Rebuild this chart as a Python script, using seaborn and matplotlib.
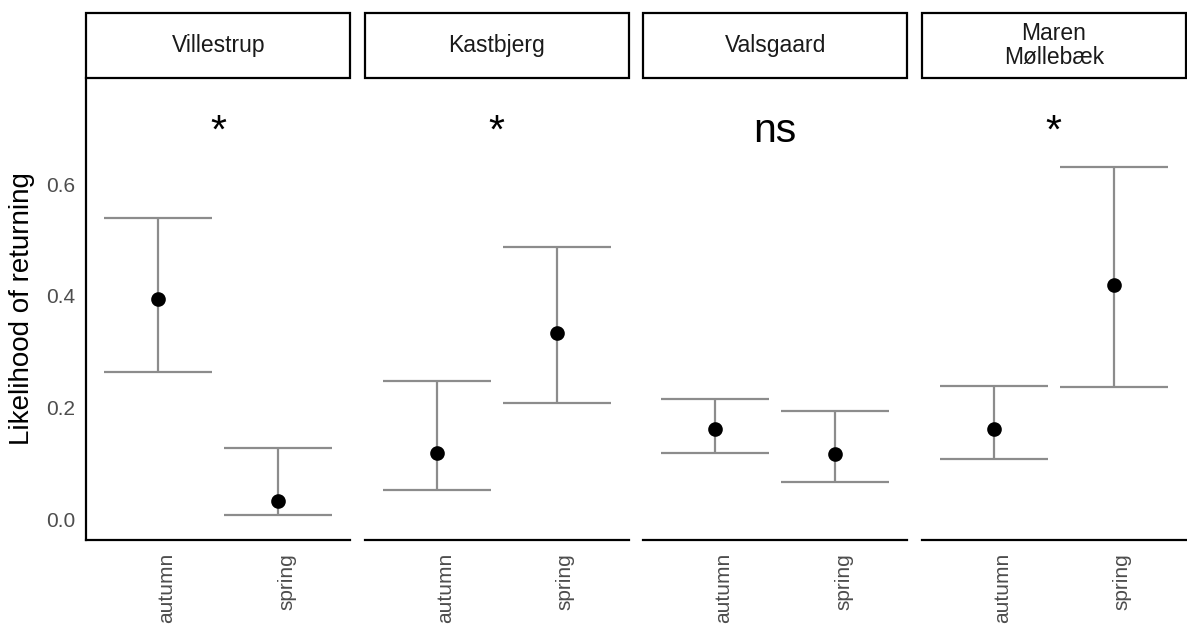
import numpy as np
import pandas as pd
import seaborn as sns
import matplotlib
matplotlib.use("Agg")
import matplotlib.pyplot as plt
from matplotlib.patches import Rectangle
from matplotlib.transforms import ScaledTranslation

# Model estimates of return probability per site and release season
sites = ["Villestrup", "Kastbjerg", "Valsgaard", "Maren\nMøllebæk"]
seasons = ["autumn", "spring"]
estimate = [0.394, 0.033, 0.118, 0.333, 0.161, 0.116, 0.162, 0.420]
lower = [0.264, 0.007, 0.052, 0.208, 0.119, 0.066, 0.107, 0.236]
upper = [0.539, 0.127, 0.247, 0.487, 0.215, 0.193, 0.238, 0.631]
significance = ["*", "*", "ns", "*"]
y_ticks = [0.0, 0.2, 0.4, 0.6]

df = pd.DataFrame({
    "site": np.repeat(sites, len(seasons)),
    "season": seasons * len(sites),
    "estimate": estimate,
    "lower": lower,
    "upper": upper,
})

sns.set_style("white")
plt.rcParams["font.family"] = ["Liberation Sans", "DejaVu Sans"]

W, H = 1187, 624
fig, axes = plt.subplots(1, 4, figsize=(W / 100, H / 100), dpi=100, sharey=True)
fig.subplots_adjust(left=86 / W, right=1186 / W, bottom=1 - 540 / H,
                    top=1 - 78 / H, wspace=0.053)

bar_color = "#8c8c8c"
tick_color = "#4d4d4d"
strip_h = 65 / 462

for ax, site, sig in zip(axes, sites, significance):
    sub = df[df["site"] == site]
    pos = np.arange(len(seasons))
    lo = sub["lower"].to_numpy()
    hi = sub["upper"].to_numpy()

    # confidence intervals with wide caps
    ax.vlines(pos, lo, hi, color=bar_color, lw=1.6, zorder=1)
    ax.hlines(lo, pos - 0.45, pos + 0.45, color=bar_color, lw=1.6, zorder=1)
    ax.hlines(hi, pos - 0.45, pos + 0.45, color=bar_color, lw=1.6, zorder=1)

    sns.pointplot(data=sub, x="season", y="estimate", order=seasons,
                  errorbar=None, color="black", linestyle="none",
                  markersize=8.5, ax=ax, zorder=3)

    ax.set_xlim(-0.6, 1.6)
    ax.set_ylim(-0.0376, 0.79)
    ax.set_xlabel("")
    ax.set_ylabel("")

    ax.text(0.5, 0.675, sig, ha="center", va="baseline", fontsize=29.5,
            color="black")

    # facet strip
    ax.add_patch(Rectangle((0, 1), 1, strip_h, transform=ax.transAxes,
                           clip_on=False, facecolor="white",
                           edgecolor="black", lw=1.6, zorder=5))
    ax.text(0.5, 1 + strip_h / 2, site, transform=ax.transAxes,
            ha="center", va="center", fontsize=16.5, color="#1a1a1a",
            linespacing=1.05, zorder=6)

    for side in ["top", "right"]:
        ax.spines[side].set_visible(False)
    ax.spines["bottom"].set_linewidth(1.6)
    ax.spines["bottom"].set_color("black")
    ax.spines["left"].set_linewidth(1.6)
    ax.spines["left"].set_color("black")

    ax.tick_params(axis="x", length=4.5, width=1.2, color="#333333",
                   labelsize=15, labelcolor=tick_color, pad=5)
    for lab in ax.get_xticklabels():
        lab.set_rotation(90)
        lab.set_ha("left")
        lab.set_va("top")
        lab.set_transform(lab.get_transform() +
                          ScaledTranslation(-1 / 100, 0, fig.dpi_scale_trans))

axes[0].set_yticks(y_ticks)
axes[0].set_yticklabels([f"{v:.1f}" for v in y_ticks])
axes[0].tick_params(axis="y", length=4.5, width=1.2, color="#333333",
                    labelsize=15, labelcolor=tick_color, pad=3)
for ax in axes[1:]:
    ax.spines["left"].set_visible(False)
    ax.tick_params(axis="y", left=False, labelleft=False)

fig.text(22 / W, 1 - 309 / H, "Likelihood of returning", rotation=90,
         ha="center", va="center", fontsize=20, color="black")

fig.savefig("out.png", dpi=100, facecolor="white")
